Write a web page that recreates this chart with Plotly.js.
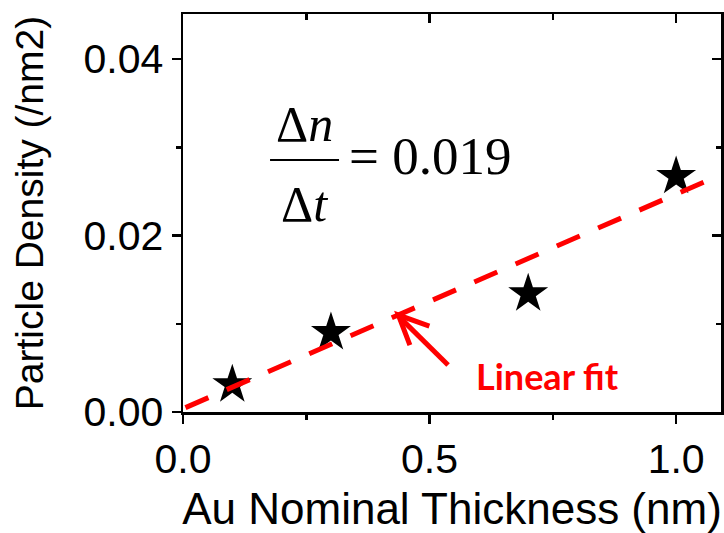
<!DOCTYPE html>
<html>
<head>
<meta charset="utf-8">
<script src="https://cdn.plot.ly/plotly-3.0.1.min.js"></script>
<style>html,body{margin:0;padding:0;background:#fff;}#chart{width:724px;height:533px;}</style>
</head>
<body>
<div id="chart"></div>
<script>
// Data
const thickness = [0.1, 0.3, 0.7, 1.0];
const density = [0.0031, 0.0090, 0.0134, 0.0267];
const fitX = [0.005, 1.091];
const fitY = [0.0005, 0.0269];
const xTickVals = [0, 0.5, 1.0];
const xTickText = ["0.0", "0.5", "1.0"];
const yTickVals = [0, 0.02, 0.04];
const yTickText = ["0.00", "0.02", "0.04"];
const xTitle = "Au Nominal Thickness (nm)";
const yTitle = "Particle Density (/nm2)";
const fitLabel = "Linear fit";

const xRange = [0, 1.091];
const yRange = [0, 0.0451];

const traces = [
  {
    x: thickness, y: density, mode: 'markers', type: 'scatter',
    marker: {symbol: 'star', size: 30, color: '#000000', line: {width: 0}},
    hoverinfo: 'skip', showlegend: false
  },
  {
    x: fitX, y: fitY, mode: 'lines', type: 'scatter',
    line: {color: '#ff0000', width: 5, dash: '25px,20px'},
    hoverinfo: 'skip', showlegend: false
  },
  {
    x: [], y: [], xaxis: 'x2', yaxis: 'y2', type: 'scatter', mode: 'markers',
    hoverinfo: 'skip', showlegend: false
  }
];

const axisLine = {showline: true, linecolor: '#000', linewidth: 2.5, zeroline: false, showgrid: false};

const layout = {
  width: 724, height: 533,
  margin: {l: 183, r: 3, t: 14, b: 121, pad: 0},
  paper_bgcolor: '#fff', plot_bgcolor: '#fff',
  showlegend: false,
  font: {family: '"Liberation Sans", Arial, sans-serif', color: '#000'},
  xaxis: Object.assign({}, axisLine, {
    range: xRange, fixedrange: true,
    tickmode: 'array', tickvals: xTickVals, ticktext: xTickText,
    ticks: 'outside', ticklen: 9, tickwidth: 2.5, tickcolor: '#000',
    minor: {ticks: 'outside', tickvals: [0.25, 0.75], ticklen: 5, tickwidth: 2.5, tickcolor: '#000'},
    tickfont: {size: 41, family: '"Liberation Sans", Arial, sans-serif'},
    title: {text: xTitle, font: {size: 44, family: '"Liberation Sans", Arial, sans-serif'}, standoff: 32}
  }),
  yaxis: Object.assign({}, axisLine, {
    range: yRange, fixedrange: true,
    tickmode: 'array', tickvals: yTickVals, ticktext: yTickText,
    ticks: 'outside', ticklen: 9, tickwidth: 2.5, tickcolor: '#000',
    minor: {ticks: 'outside', tickvals: [0.01, 0.03], ticklen: 5, tickwidth: 2.5, tickcolor: '#000'},
    tickfont: {size: 41, family: '"Liberation Sans", Arial, sans-serif'},
    title: {text: yTitle, font: {size: 39, family: '"Liberation Sans", Arial, sans-serif'}, standoff: 28}
  }),
  xaxis2: Object.assign({}, axisLine, {
    overlaying: 'x', side: 'top', anchor: 'y2',
    range: xRange, fixedrange: true,
    tickmode: 'array', tickvals: [0.5, 1.0], showticklabels: false,
    ticks: 'inside', ticklen: 9, tickwidth: 2.5, tickcolor: '#000',
    minor: {ticks: 'inside', tickvals: [0.25, 0.75], ticklen: 6, tickwidth: 2.5, tickcolor: '#000'}
  }),
  yaxis2: Object.assign({}, axisLine, {
    overlaying: 'y', side: 'right', anchor: 'x2',
    range: yRange, fixedrange: true,
    tickmode: 'array', tickvals: [0.02, 0.04], showticklabels: false,
    ticks: 'inside', ticklen: 9, tickwidth: 2.5, tickcolor: '#000',
    minor: {ticks: 'inside', tickvals: [0.01, 0.03], ticklen: 5, tickwidth: 2.5, tickcolor: '#000'}
  }),
  shapes: [
    // fraction bar
    {type: 'line', xref: 'x', yref: 'y', x0: 0.1765, x1: 0.3164, y0: 0.02856, y1: 0.02856,
     line: {color: '#000', width: 2}},
    // arrow shaft
    {type: 'line', xref: 'x', yref: 'y', x0: 0.5375, y0: 0.00533, x1: 0.4390, y1: 0.01075,
     line: {color: '#ff0000', width: 5}},
    // arrow head (open V)
    {type: 'path', xref: 'x', yref: 'y',
     path: 'M 0.4996 0.00974 L 0.4367 0.01099 L 0.4601 0.00758',
     line: {color: '#ff0000', width: 5}}
  ],
  annotations: [
    {xref: 'x', yref: 'y', x: 0.2465, y: 0.0326, text: 'Δ<i>n</i>', showarrow: false,
     xanchor: 'center', yanchor: 'middle',
     font: {family: '"Liberation Serif", "Times New Roman", serif', size: 50, color: '#000'}},
    {xref: 'x', yref: 'y', x: 0.2465, y: 0.0236, text: 'Δ<i>t</i>', showarrow: false,
     xanchor: 'center', yanchor: 'middle',
     font: {family: '"Liberation Serif", "Times New Roman", serif', size: 50, color: '#000'}},
    {xref: 'x', yref: 'y', x: 0.3330, y: 0.0290, text: '= 0.019', showarrow: false,
     xanchor: 'left', yanchor: 'middle',
     font: {family: '"Liberation Serif", "Times New Roman", serif', size: 53, color: '#000'}},
    {xref: 'x', yref: 'y', x: 0.7383, y: 0.0041, text: '<b>' + fitLabel + '</b>', showarrow: false,
     xanchor: 'center', yanchor: 'middle',
     font: {family: 'Lato, "Open Sans", sans-serif', size: 36, color: '#ff0000'}}
  ]
};

Plotly.newPlot('chart', traces, layout, {displayModeBar: false, staticPlot: true});
</script>
</body>
</html>
